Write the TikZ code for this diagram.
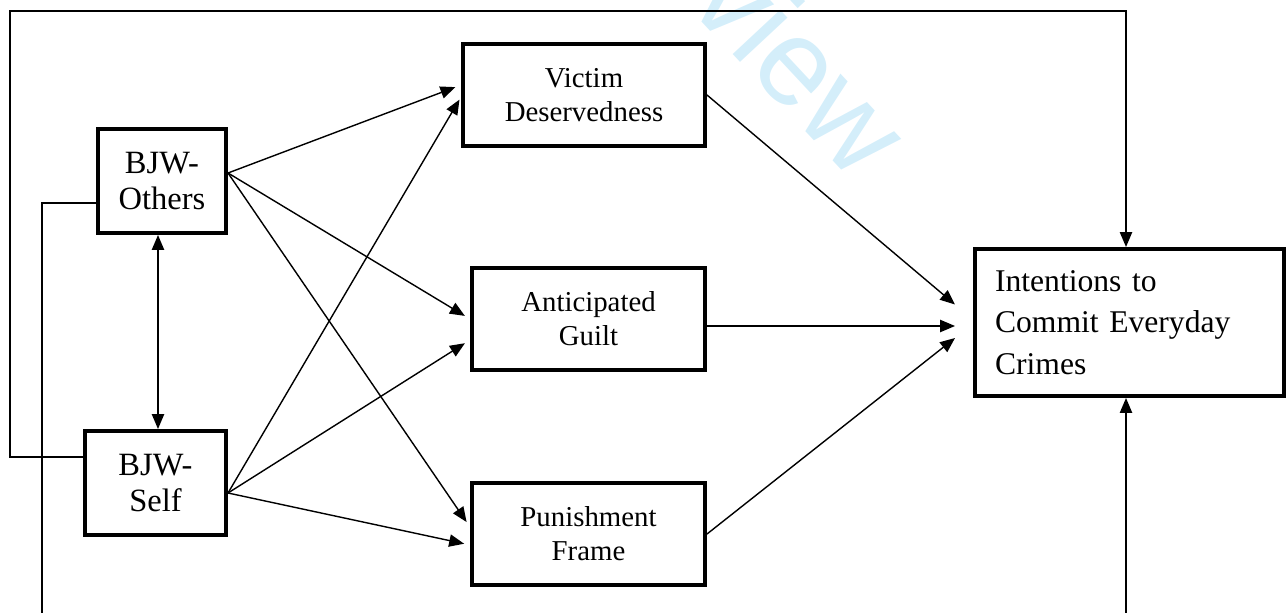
\documentclass[tikz,border=0pt]{standalone}
\usepackage{fontspec}
\setmainfont{Liberation Serif}
\newfontfamily\markfont{Liberation Sans}
\usetikzlibrary{arrows.meta}
\definecolor{wmark}{RGB}{212,238,250}
\tikzset{
  >={Triangle[length=8.5pt,width=7pt]},
  varbox/.style={draw, line width=2.3pt, align=center, inner sep=0pt},
  midfont/.style={font=\fontsize{16.4}{19.3}\selectfont},
  link/.style={line width=0.8pt, ->},
}

\begin{document}
\begin{tikzpicture}[x=0.02cm, y=-0.02cm]
		\useasboundingbox (0,0) rectangle (1288,612);
		\clip (0,0) rectangle (1288,612);
		\node[rotate=-47, text=wmark, font=\markfont\fontsize{70}{70}\selectfont] (mark) at (802,64) {view};
		% predictors
		\node[varbox, minimum width=2.56cm, minimum height=2.08cm, font=\fontsize{18.5}{21}\selectfont] (others) at (162,181) {BJW-\\Others};
		\node[varbox, minimum width=2.82cm, minimum height=2.08cm, font=\fontsize{18.5}{21}\selectfont] (self) at (155.5,483) {BJW-\\Self};
		% mediators
		\node[varbox, midfont, minimum width=4.84cm, minimum height=2.04cm] (victim) at (584,95) {Victim\\Deservedness};
		\node[varbox, midfont, minimum width=4.66cm, minimum height=2.04cm] (guilt) at (588.5,319) {Anticipated\\Guilt};
		\node[varbox, midfont, minimum width=4.66cm, minimum height=2.04cm] (punish) at (588.5,534) {Punishment\\Frame};
		% outcome
		\node[varbox, align=left, text width=5.38cm, inner xsep=0.4cm, minimum height=2.94cm, font=\fontsize{18}{23.8}\selectfont] (intent) at (1129.5,322.5) {Intentions to\\Commit Everyday\\Crimes};
		\coordinate (os) at ([yshift=.16cm]others.east);
		\coordinate (ss) at ([yshift=-.2cm]self.east);
		\coordinate (corner) at (10,11);
		\draw[link, <->] ([xshift=-.08cm]others.south) -- ([xshift=-.08cm]others.south |- self.north);
		\draw[link, shorten >=.12cm] (os) -- ([yshift=.2cm]victim.west);
		\draw[link, shorten >=.12cm] (os) -- (guilt.west);
		\draw[link, shorten >=.12cm] (os) -- ([yshift=.14cm]punish.west);
		\draw[link, shorten >=.06cm] (ss) -- ([yshift=-.04cm]victim.west);
		\draw[link, shorten >=.12cm] (ss) -- ([yshift=-.42cm]guilt.west);
		\draw[link, shorten >=.12cm] (ss) -- ([yshift=-.22cm]punish.west);
		\coordinate (in1) at ([xshift=-.36cm, yshift=.36cm]intent.west);
		\coordinate (in2) at ([xshift=-.36cm, yshift=-.07cm]intent.west);
		\coordinate (in3) at ([xshift=-.36cm, yshift=-.31cm]intent.west);
		\draw[link] (victim.east) -- (in1);
		\draw[link] (guilt.east |- in2) -- (in2);
		\draw[link] (punish.east) -- (in3);
		% direct paths
		\draw[link] ([yshift=.52cm]self.west) -| (corner) -| ([xshift=-.07cm]intent.north);
		\draw[link] ([yshift=-.44cm]others.west) -| (42,650) -| ([xshift=-.07cm]intent.south);
\end{tikzpicture}
\end{document}
